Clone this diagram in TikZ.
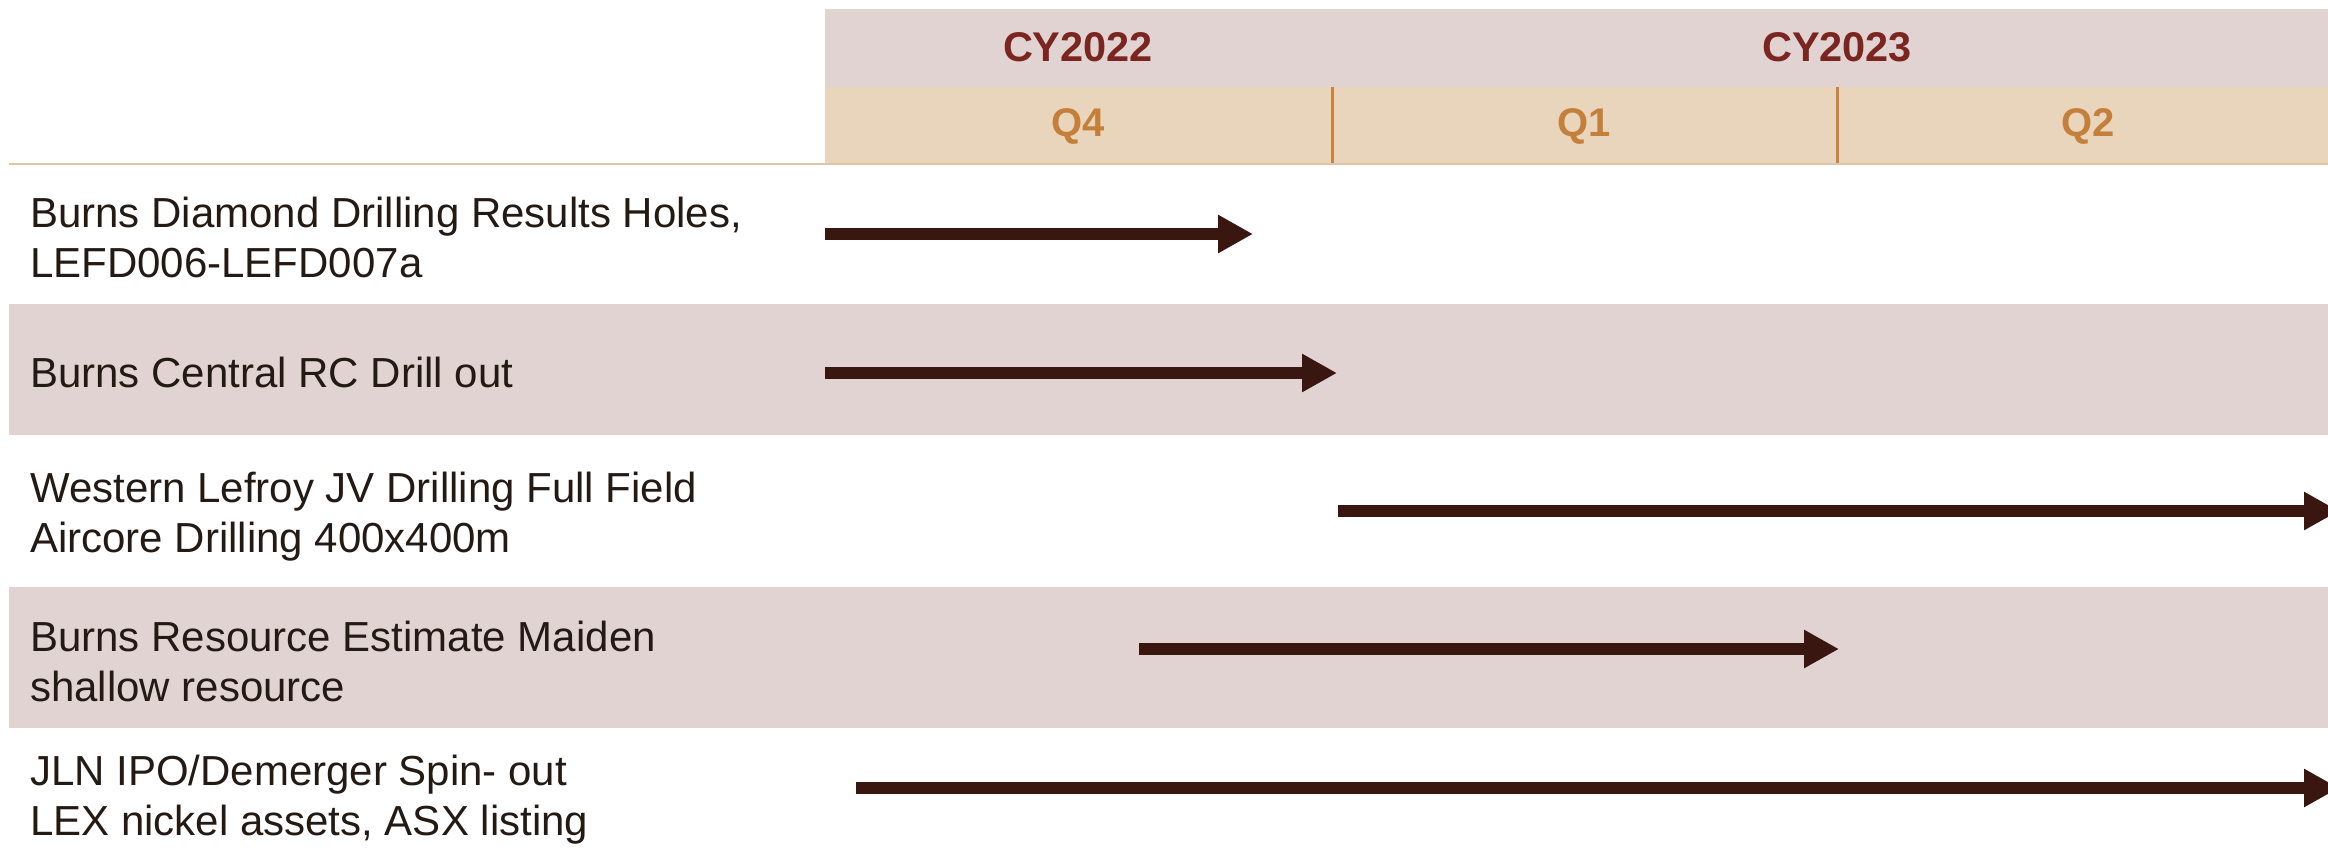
\documentclass[tikz,border=0pt]{standalone}
\usepackage{fontspec}
\setmainfont{Liberation Sans}
\usetikzlibrary{arrows.meta}
\definecolor{bandpink}{HTML}{E2D3D3}
\definecolor{bandtan}{HTML}{E9D5BC}
\definecolor{cytext}{HTML}{7B2520}
\definecolor{qtext}{HTML}{C4803A}
\definecolor{divider}{HTML}{C8843E}
\definecolor{rule}{HTML}{DFC4A6}
\definecolor{arrowc}{HTML}{3A1610}
\definecolor{labeltext}{HTML}{231A14}
\tikzset{
  cylabel/.style={font=\fontsize{41.5}{48}\selectfont\bfseries, text=cytext, inner sep=0pt},
  qlabel/.style={font=\fontsize{40}{48}\selectfont\bfseries, text=qtext, inner sep=0pt},
  tasklabel/.style={font=\fontsize{42}{50}\selectfont, text=labeltext, inner sep=0pt, anchor=west, align=left},
  bararrow/.style={draw=arrowc, line width=12pt, -{Triangle[length=35pt,width=36pt]}},
}
\begin{document}
\begin{tikzpicture}[x=1pt,y=-1pt]
\useasboundingbox (0,0) rectangle (2328,855);
\clip (0,0) rectangle (2328,855);
% header bands
\fill[bandpink] (825,9) rectangle (2340,87);
\fill[bandtan] (825,87) rectangle (2340,164);
% row bands
\fill[bandpink] (9,304) rectangle (2340,435);
\fill[bandpink] (9,587) rectangle (2340,728);
% dividers and rule
\draw[divider, line width=3pt] (1332,87) -- (1332,164);
\draw[divider, line width=3pt] (1837,87) -- (1837,164);
\draw[rule, line width=2pt] (9,164) -- (2340,164);
% header labels
\node[cylabel] (cy22) at (1078,47) {CY2022};
\node[cylabel] (cy23) at (1837,47) {CY2023};
\node[qlabel] (q4) at (1078,126) {Q4};
\node[qlabel] (q1) at (1584,126) {Q1};
\node[qlabel] (q2) at (2088,126) {Q2};
% task labels
\node[tasklabel] (t1) at (30,237) {Burns Diamond Drilling Results Holes,\\LEFD006-LEFD007a};
\node[tasklabel] (t2) at (30,372) {Burns Central RC Drill out};
\node[tasklabel] (t3) at (30,517) {Western Lefroy JV Drilling Full Field\\Aircore Drilling 400x400m};
\node[tasklabel] (t4) at (30,661) {Burns Resource Estimate Maiden\\shallow resource};
\node[tasklabel] (t5) at (30,800) {JLN IPO/Demerger Spin- out\\LEX nickel assets, ASX listing};
% arrow ends
\coordinate (a1s) at (825,234);  \coordinate (a1e) at (1253,234);
\coordinate (a2s) at (825,373);  \coordinate (a2e) at (1337,373);
\coordinate (a3s) at (1338,511); \coordinate (a3e) at (2339,511);
\coordinate (a4s) at (1139,649); \coordinate (a4e) at (1839,649);
\coordinate (a5s) at (856,788);  \coordinate (a5e) at (2339,788);
\draw[bararrow] (a1s) -- (a1e);
\draw[bararrow] (a2s) -- (a2e);
\draw[bararrow] (a3s) -- (a3e);
\draw[bararrow] (a4s) -- (a4e);
\draw[bararrow] (a5s) -- (a5e);
\end{tikzpicture}
\end{document}
